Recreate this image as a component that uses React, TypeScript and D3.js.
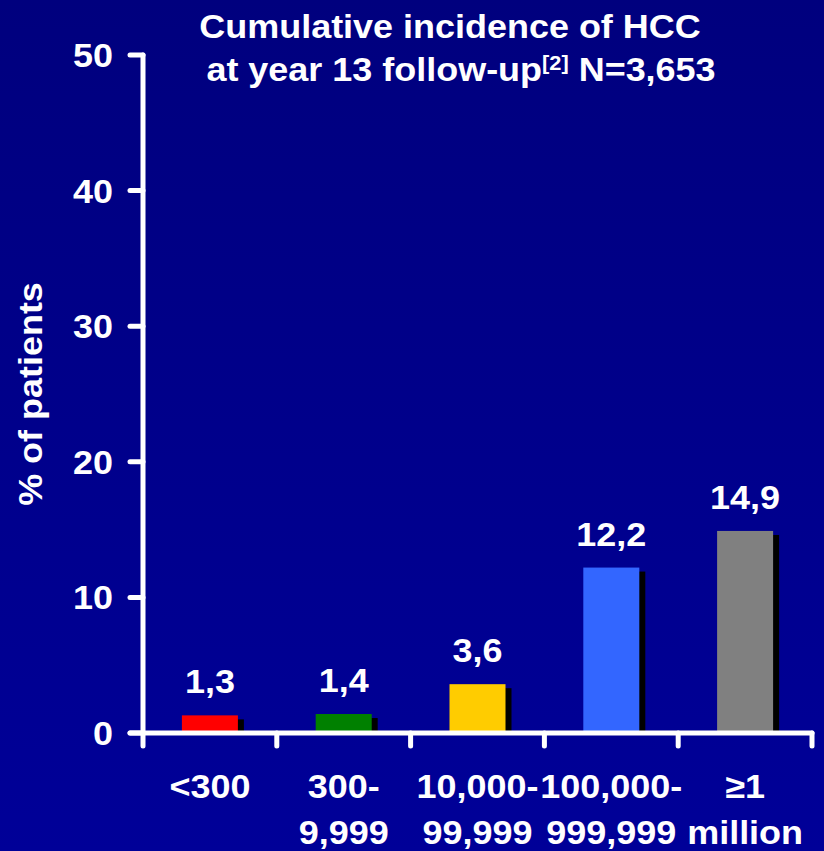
import React from "react";
import * as d3 from "d3";

const categories = ["<300", "300-|9,999", "10,000-|99,999", "100,000-|999,999", "≥1|million"];
const values = [1.3, 1.4, 3.6, 12.2, 14.9];
const valueLabels = ["1,3", "1,4", "3,6", "12,2", "14,9"];
const barColors = ["#FF0000", "#008000", "#FFCC00", "#3366FF", "#808080"];
const yTicks = [0, 10, 20, 30, 40, 50];
const titleLines = ["Cumulative incidence of HCC", "at year 13 follow-up", "[2]", " N=3,653"];

const W = 824;
const H = 851;
const FONT = "Liberation Sans, Arial, Helvetica, sans-serif";
const FS = 33;
const SX = 1.09;

type TProps = {
  x: number;
  y: number;
  anchor?: "start" | "middle" | "end";
  rotate?: number;
  size?: number;
  children: React.ReactNode;
};

// Bold white label, slightly widened like the slide typeface
function T({ x, y, anchor = "middle", rotate = 0, size = FS, children }: TProps) {
  return (
    <text
      transform={`translate(${x},${y}) rotate(${rotate}) scale(${SX},1)`}
      textAnchor={anchor}
      fill="#fff"
      fontWeight="bold"
      fontSize={size}
    >
      {children}
    </text>
  );
}

export default function App() {
  const x = d3.scaleBand<number>().domain(d3.range(categories.length)).range([143, 812]).paddingInner(0).paddingOuter(0);
  const y = d3.scaleLinear().domain([0, 50]).range([733, 55]);
  const barW = 56;
  const shadowDx = 6;
  const shadowDy = 4;

  return (
    <svg width={W} height={H} style={{ position: "absolute", left: 0, top: 0, display: "block" }} fontFamily={FONT}>
      <defs>
        <linearGradient id="bg" x1="0" y1="0" x2="0" y2="1">
          <stop offset="0" stopColor="#00007E" />
          <stop offset="1" stopColor="#000098" />
        </linearGradient>
      </defs>
      <rect x={0} y={0} width={W} height={H} fill="url(#bg)" />

      {/* title */}
      <T x={450} y={38}>{titleLines[0]}</T>
      <T x={461} y={81}>
        {titleLines[1]}
        <tspan fontSize={20} dy={-11}>{titleLines[2]}</tspan>
        <tspan dy={11}>{titleLines[3]}</tspan>
      </T>

      {/* y-axis title */}
      <T x={42} y={394} rotate={-90}>% of patients</T>

      {/* bars with drop shadow */}
      {values.map((v, i) => {
        const cx = (x(i) as number) + x.bandwidth() / 2;
        const x0 = cx - barW / 2;
        const top = y(v);
        return (
          <g key={i}>
            <rect x={x0 + shadowDx} y={top + shadowDy} width={barW} height={y(0) - top - shadowDy} fill="#000" />
            <rect x={x0} y={top} width={barW} height={y(0) - top} fill={barColors[i]} />
            <T x={cx} y={top - 22}>{valueLabels[i]}</T>
          </g>
        );
      })}

      {/* axes */}
      <g stroke="#fff" strokeWidth={5} strokeLinecap="round" fill="none">
        <line x1={143} y1={y(50)} x2={143} y2={y(0)} />
        <line x1={130} y1={y(0)} x2={812} y2={y(0)} />
        {yTicks.map((t) => (
          <line key={t} x1={130} y1={y(t)} x2={143} y2={y(t)} />
        ))}
        {d3.range(categories.length + 1).map((i) => {
          const xx = i < categories.length ? (x(i) as number) : x.range()[1];
          return <line key={i} x1={xx} y1={y(0)} x2={xx} y2={y(0) + 13} />;
        })}
      </g>

      {/* y tick labels */}
      {yTicks.map((t) => (
        <T key={t} x={113} y={y(t) + 12} anchor="end">
          {t}
        </T>
      ))}

      {/* category labels */}
      {categories.map((c, i) => {
        const cx = (x(i) as number) + x.bandwidth() / 2;
        return c.split("|").map((line, j) => (
          <T key={`${i}-${j}`} x={cx} y={798 + j * 46}>
            {line}
          </T>
        ));
      })}
    </svg>
  );
}
